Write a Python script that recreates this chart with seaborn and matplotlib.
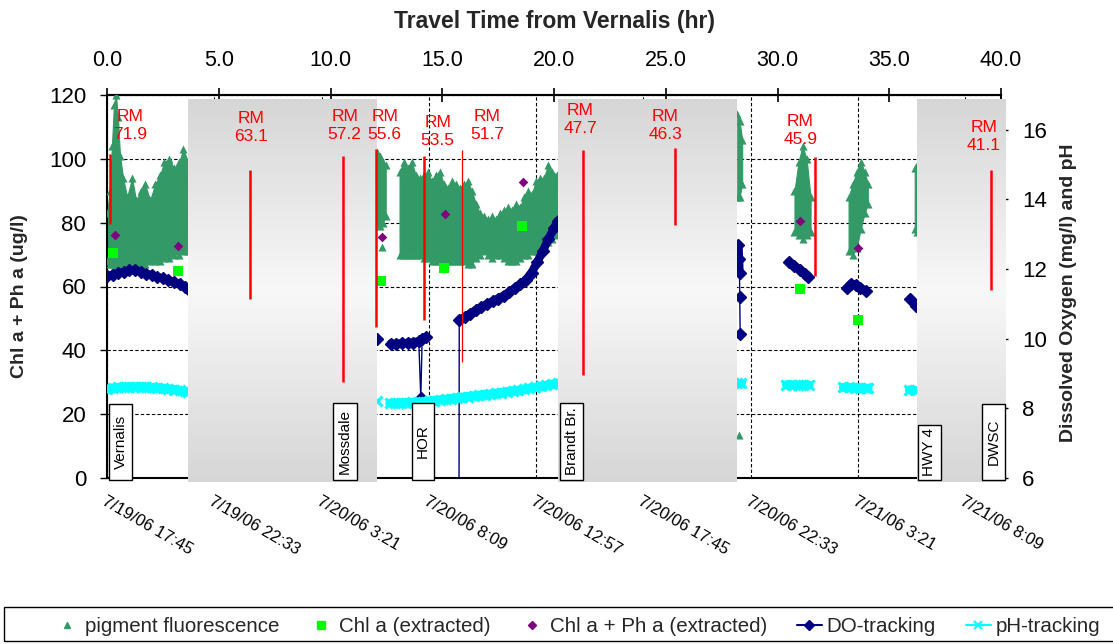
import numpy as np
import pandas as pd
import matplotlib
matplotlib.use("Agg")
import matplotlib.pyplot as plt
import seaborn as sns
from matplotlib.patches import Rectangle
from matplotlib.lines import Line2D
from matplotlib.collections import LineCollection
from matplotlib.colors import LinearSegmentedColormap

sns.set_style("white")
plt.rcParams["font.family"] = ["Liberation Sans", "DejaVu Sans"]

# ---------------- data (x = travel time from Vernalis, hours) ----------------
# pigment fluorescence (ug/l): low/high envelope of each continuous run
fluor_run = [1] * 22 + [2] * 4 + [3] * 40 + [4] * 3 + [5] * 5 + [6] * 6 + [7] * 2
fluor_hours = [
    0.00, 0.13, 0.22, 0.31, 0.40, 0.49, 0.58, 0.72, 0.90, 1.12, 1.30, 1.52, 1.70, 1.93, 2.15,
    2.38, 2.56, 2.78, 3.00, 3.23, 3.41, 3.63,
    12.06, 12.20, 12.33, 12.47,
    13.09, 13.27, 13.45, 13.63, 13.81, 13.99, 14.17, 14.35, 14.53, 14.71, 14.89, 15.07, 15.25,
    15.43, 15.61, 15.78, 15.96, 16.14, 16.32, 16.50, 16.68, 16.86, 17.04, 17.22, 17.40, 17.58,
    17.76, 17.94, 18.12, 18.30, 18.48, 18.65, 18.83, 19.01, 19.19, 19.37, 19.55, 19.73, 19.91,
    20.13,
    28.20, 28.30, 28.42,
    30.76, 30.94, 31.12, 31.30, 31.48,
    33.18, 33.36, 33.54, 33.72, 33.90, 34.04,
    36.14, 36.23,
]
fluor_high = [
    83, 90, 104, 117, 120, 113, 101, 94, 88, 94, 87, 90, 92, 87, 92, 95, 99, 100, 97, 99, 103, 99,
    102, 101, 99, 98,
    96, 99, 97, 99, 95, 94, 95, 96, 93, 95, 96, 92, 91, 93, 92, 91, 92, 93, 90, 86, 83, 82, 81,
    82, 81, 83, 84, 85, 84, 86, 85, 88, 90, 89, 93, 94, 94, 98, 96, 95,
    114, 112, 106,
    90, 99, 104, 100, 88,
    88, 92, 96, 99, 96, 92,
    97, 98,
]
fluor_low = [
    68, 67, 67, 66, 66, 66, 66, 67, 67, 67, 67, 67, 67, 68, 68, 68, 69, 69, 70, 70, 71, 71,
    80, 79, 80, 82,
    70, 70, 70, 70, 70, 70, 69, 69, 68, 68, 68, 68, 68, 68, 68, 68, 68, 67, 67, 69, 70, 71, 70,
    69, 70, 70, 69, 68, 68, 68, 69, 70, 70, 71, 71, 72, 73, 74, 75, 76,
    88, 88, 92,
    77, 76, 75, 76, 77,
    71, 70, 72, 78, 83, 86,
    78, 77,
]
fluor_single_hours = [12.29, 28.27]
fluor_single_values = [72.4, 13.5]

# extracted chlorophyll samples (ug/l)
chl_hours = [0.27, 3.18, 12.24, 15.07, 18.57, 30.99, 33.59]
chl_values = [70.5, 64.9, 61.7, 65.8, 79.0, 59.2, 49.5]
chlph_hours = [0.36, 3.18, 12.29, 15.11, 18.61, 30.99, 33.59]
chlph_values = [76.1, 72.7, 75.5, 82.6, 92.8, 80.5, 72.1]

# dissolved oxygen tracking (mg/l)
do_run = [1] * 16 + [2] + [3] * 9 + [4] * 20 + [5] * 5 + [6] * 5 + [7] * 5 + [8] * 2
do_hours = [
    0.00, 0.25, 0.50, 0.75, 1.00, 1.25, 1.50, 1.75, 2.00, 2.25, 2.50, 2.75, 3.00, 3.25, 3.50, 3.63,
    12.08,
    12.70, 12.95, 13.20, 13.45, 13.70, 13.95, 14.04, 14.10, 14.26,
    15.74, 15.76, 16.00, 16.25, 16.50, 16.75, 17.00, 17.25, 17.50, 17.75, 18.00, 18.25, 18.50,
    18.75, 19.00, 19.25, 19.50, 19.75, 20.00, 20.18,
    28.25, 28.28, 28.30, 28.31, 28.33,
    30.50, 30.75, 31.00, 31.25, 31.35,
    33.10, 33.30, 33.50, 33.70, 33.95,
    35.95, 36.20,
]
do_values = [
    11.80, 11.84, 11.88, 11.92, 11.96, 11.98, 11.93, 11.87, 11.82, 11.77, 11.73, 11.68, 11.63,
    11.57, 11.49, 11.43,
    9.98,
    9.86, 9.85, 9.87, 9.88, 9.89, 9.93, 8.30, 9.98, 10.05,
    0.00, 10.54, 10.62, 10.72, 10.82, 10.91, 10.99, 11.07, 11.15, 11.24, 11.34, 11.45, 11.56,
    11.70, 11.90, 12.20, 12.52, 12.86, 13.18, 13.39,
    12.70, 12.30, 11.90, 11.20, 10.15,
    12.20, 12.10, 11.98, 11.85, 11.78,
    11.45, 11.58, 11.55, 11.47, 11.36,
    11.15, 10.95,
]

# pH tracking
ph_run = [1] * 16 + [2] + [3] * 31 + [4] * 2 + [5] * 5 + [6] * 6 + [7] * 2
ph_hours = [
    0.00, 0.25, 0.50, 0.75, 1.00, 1.25, 1.50, 1.75, 2.00, 2.25, 2.50, 2.75, 3.00, 3.25, 3.50, 3.63,
    12.10,
    12.65, 12.90, 13.15, 13.40, 13.65, 13.90, 14.15, 14.40, 14.65, 14.90, 15.15, 15.40, 15.65,
    15.90, 16.15, 16.40, 16.65, 16.90, 17.15, 17.40, 17.65, 17.90, 18.15, 18.40, 18.65, 18.90,
    19.15, 19.40, 19.65, 19.90, 20.18,
    28.20, 28.35,
    30.40, 30.65, 30.90, 31.15, 31.40,
    32.95, 33.20, 33.45, 33.70, 33.95, 34.05,
    35.90, 36.15,
]
ph_values = [
    8.55, 8.58, 8.60, 8.61, 8.62, 8.62, 8.62, 8.61, 8.60, 8.59, 8.58, 8.56, 8.54, 8.52, 8.49, 8.47,
    8.20,
    8.15, 8.15, 8.16, 8.16, 8.17, 8.18, 8.19, 8.21, 8.22, 8.24, 8.26, 8.28, 8.30, 8.32, 8.34,
    8.36, 8.38, 8.39, 8.41, 8.43, 8.45, 8.48, 8.50, 8.52, 8.55, 8.58, 8.60, 8.63, 8.66, 8.69, 8.73,
    8.73, 8.73,
    8.68, 8.67, 8.66, 8.67, 8.67,
    8.60, 8.60, 8.59, 8.59, 8.58, 8.58,
    8.53, 8.52,
]

# river mile markers
rm_labels = ["71.9", "63.1", "57.2", "55.6", "53.5", "51.7", "47.7", "46.3", "45.9", "41.1"]
rm_line_hours = [0.13, 6.41, 10.58, 12.02, 14.20, 15.87, 21.30, 25.43, 31.70, 39.55]
rm_line_top = [101.5, 96.5, 100.9, 103.1, 100.9, 102.8, 102.8, 103.4, 100.6, 96.5]
rm_line_bottom = [79.6, 56.1, 30.1, 47.3, 49.5, 36.3, 32.3, 79.3, 63.3, 58.9]
rm_text_hours = [1.03, 6.46, 10.63, 12.42, 14.80, 17.00, 21.17, 24.98, 31.03, 39.24]
rm_text_level = [110.3, 109.8, 110.4, 110.3, 108.7, 110.3, 112.2, 110.3, 108.9, 107.0]

# stations
station_names = ["Vernalis", "Mossdale", "HOR", "Brandt Br.", "HWY 4", "DWSC"]
station_left = [0.09, 10.13, 13.63, 20.27, 36.28, 39.15]
station_right = [1.12, 11.17, 14.62, 21.30, 37.31, 40.18]
station_top = [23.2, 23.5, 23.5, 23.5, 16.6, 23.2]

# shaded reaches (hours)
shade_start = [3.63, 20.18, 36.23]
shade_end = [12.06, 28.16, 40.18]

# axis ticks
date_tick_hours = [0.0, 4.8, 9.6, 14.4, 19.2, 24.0, 28.8, 33.6, 38.4]
date_labels = ["7/19/06 17:45", "7/19/06 22:33", "7/20/06 3:21", "7/20/06 8:09",
               "7/20/06 12:57", "7/20/06 17:45", "7/20/06 22:33", "7/21/06 3:21",
               "7/21/06 8:09"]
travel_ticks = [0, 5, 10, 15, 20, 25, 30, 35, 40]

# ---------------- colours ----------------
GREEN = "#339966"
LIME = "#00ff00"
PURPLE = "#800080"
NAVY = "#000080"
CYAN = "#00ffff"
RED = "#ff0000"

# ---------------- figure ----------------
fig = plt.figure(figsize=(11.13, 6.44), dpi=100)
rect = [107 / 1113, 1 - 478 / 644, 894 / 1113, 383 / 644]
ax = fig.add_axes(rect)
ax2 = ax.twinx()

# fluorescence band + markers
fl = pd.DataFrame(dict(run=fluor_run, hours=fluor_hours, high=fluor_high, low=fluor_low))
for _, g in fl.groupby("run"):
    ax.fill_between(g["hours"], g["low"], g["high"], color=GREEN, lw=0.8, ec=GREEN, zorder=2)
fl_pts = pd.DataFrame({
    "hours": list(fl["hours"]) + list(fl["hours"]) + fluor_single_hours,
    "ugl": list(fl["high"]) + list(fl["low"]) + fluor_single_values,
})
sns.scatterplot(data=fl_pts, x="hours", y="ugl", marker="^", color=GREEN, s=34,
                linewidth=0, ax=ax, zorder=3, legend=False)

sns.scatterplot(x=chl_hours, y=chl_values, marker="s", color=LIME, s=55, linewidth=0,
                ax=ax, zorder=4, legend=False)
sns.scatterplot(x=chlph_hours, y=chlph_values, marker="D", color=PURPLE, s=24, linewidth=0,
                ax=ax, zorder=4, legend=False)

# DO on the right axis: thick band between close readings, thin line for abrupt drops
do = pd.DataFrame(dict(run=do_run, hours=do_hours, mgl=do_values))
band = []
for _, g in do.groupby("run"):
    h = g["hours"].to_numpy()
    v = g["mgl"].to_numpy()
    for i in range(len(h) - 1):
        if abs(v[i + 1] - v[i]) < 0.5:
            band.append([(h[i], v[i]), (h[i + 1], v[i + 1])])
ax2.add_collection(LineCollection(band, colors=NAVY, linewidths=6, capstyle="round",
                                  zorder=1.9))
sns.lineplot(data=do, x="hours", y="mgl", units="run", estimator=None, color=NAVY, lw=1,
             marker="D", markersize=6, markeredgecolor=NAVY, markeredgewidth=1,
             legend=False, ax=ax2)

# pH on the right axis
ph = pd.DataFrame(dict(run=ph_run, hours=ph_hours, ph=ph_values))
sns.lineplot(data=ph, x="hours", y="ph", units="run", estimator=None, color=CYAN, lw=6.5,
             marker="x", markersize=7.5, markeredgecolor=CYAN, markeredgewidth=2.2,
             legend=False, ax=ax2)

# limits, ticks, grid
ax.set_xlim(0, 40)
ax.set_ylim(0, 120)
ax2.set_ylim(6, 17)
ax.set_yticks(range(0, 121, 20))
ax2.set_yticks(range(6, 17, 2))
ax.set_xticks(date_tick_hours)
ax.set_xticklabels(date_labels, rotation=-30, ha="left", va="top", rotation_mode="anchor",
                   fontsize=12)
ax.tick_params(axis="x", direction="out", length=4, width=1, pad=7, colors="black")
ax.tick_params(axis="y", direction="out", length=5, width=1, labelsize=16, pad=10,
               colors="black")
ax2.tick_params(axis="y", direction="out", length=5, width=1, labelsize=16, pad=10,
                colors="black")
ax.grid(True, color="black", ls=(0, (3, 2)), lw=0.8)
ax.set_axisbelow(True)
ax2.grid(False)

for s in ["left", "bottom", "top"]:
    ax.spines[s].set_color("black")
    ax.spines[s].set_linewidth(1.5)
ax.spines["right"].set_visible(False)
for s in ["left", "bottom", "top"]:
    ax2.spines[s].set_visible(False)
ax2.spines["right"].set_color("black")
ax2.spines["right"].set_linewidth(1.2)

ax.set_xlabel("")
ax2.set_xlabel("")
ax.set_ylabel("Chl a + Ph a (ug/l)", fontsize=14, fontweight="bold")
ax.yaxis.set_label_coords(-0.088, 0.474)
ax2.set_ylabel("Dissolved Oxygen (mg/l) and pH", fontsize=14, fontweight="bold")
ax2.yaxis.set_label_coords(1.066, 0.483)

top = ax.secondary_xaxis("top")
top.set_xticks(travel_ticks)
top.set_xticklabels([f"{v:.1f}" for v in travel_ticks])
top.tick_params(direction="inout", length=10, width=1.2, labelsize=15.5, pad=12,
                colors="black")
top.spines["top"].set_linewidth(1.5)
top.set_xlabel("Travel Time from Vernalis (hr)", fontsize=16.5, fontweight="bold",
               labelpad=16)

# overlay: shaded reaches, river miles, station tags
ov = fig.add_axes(rect, label="overlay")
ov.axis("off")
ov.patch.set_alpha(0)

shade = LinearSegmentedColormap.from_list("shade", ["#d6d6d6", "#f8f8f8", "#d6d6d6"])
grad = np.linspace(0, 1, 256).reshape(-1, 1)
for x0, x1 in zip(shade_start, shade_end):
    ov.imshow(grad, cmap=shade, extent=(x0, x1, -1.25, 118.7), aspect="auto",
              origin="lower", zorder=1, clip_on=False, interpolation="bilinear")
ov.set_xlim(0, 40)
ov.set_ylim(0, 120)

for i, (x, y0, y1) in enumerate(zip(rm_line_hours, rm_line_bottom, rm_line_top)):
    ov.vlines(x, y0, y1, color=RED, lw=0.9 if i == 5 else 1.8, zorder=2)
for x, y, lab in zip(rm_text_hours, rm_text_level, rm_labels):
    ov.text(x, y, f"RM\n{lab}", color=RED, ha="center", va="center", fontsize=12.5,
            linespacing=1.25, zorder=3)

for name, x0, x1, y1 in zip(station_names, station_left, station_right, station_top):
    ov.add_patch(Rectangle((x0, -0.6), x1 - x0, y1 + 0.6, fc="white", ec="black", lw=1,
                           clip_on=False, zorder=4))
    ov.text((x0 + x1) / 2, (y1 - 0.6) / 2, name, rotation=90, ha="center", va="center",
            fontsize=11, color="black", zorder=5, clip_on=False)

# legend
handles = [
    Line2D([], [], ls="none", marker="^", color=GREEN, ms=5),
    Line2D([], [], ls="none", marker="s", color=LIME, ms=6),
    Line2D([], [], ls="none", marker="D", color=PURPLE, ms=4),
    Line2D([], [], color=NAVY, lw=1.5, marker="D", ms=5),
    Line2D([], [], color=CYAN, lw=1.5, marker="x", ms=6, mew=1.5),
]
labels = ["pigment fluorescence", "Chl a (extracted)", "Chl a + Ph a (extracted)",
          "DO-tracking", "pH-tracking"]
fig.legend(handles, labels, loc="center", bbox_to_anchor=(0.519, 0.0264), ncol=5,
           frameon=False, fontsize=14.8, handlelength=1.2, handletextpad=0.25,
           columnspacing=1.45)
fig.add_artist(Rectangle((4 / 1113, 3 / 644), 1.0, 34 / 644, transform=fig.transFigure,
                         fill=False, ec="black", lw=1))

fig.savefig("out.png", dpi=100)
